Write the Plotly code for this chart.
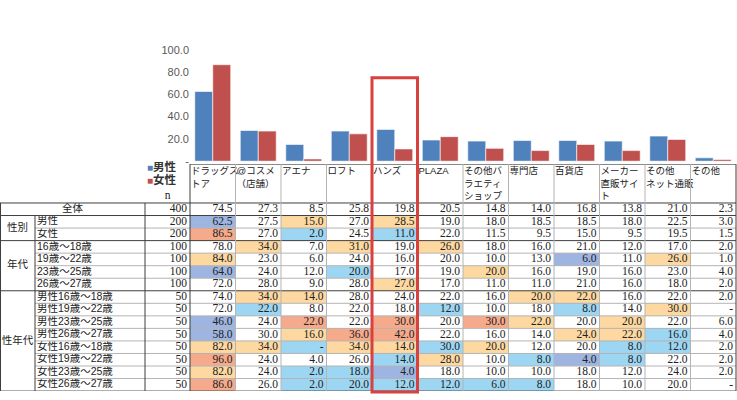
import plotly.graph_objects as go

# ---------------- data ----------------
categories = ["ドラッグストア", "@コスメ（店舗）", "アエナ", "ロフト", "ハンズ", "PLAZA",
              "その他バラエティショップ", "専門店", "百貨店", "メーカー直販サイト",
              "その他ネット通販", "その他"]
header_lines = [["ドラッグス", "トア"], ["@コスメ", "（店舗）"], ["アエナ"], ["ロフト"], ["ハンズ"],
                ["PLAZA"], ["その他バ", "ラエティ", "ショップ"], ["専門店"], ["百貨店"],
                ["メーカー", "直販サイ", "ト"], ["その他", "ネット通販"], ["その他"]]

row_labels = ["全体", "男性", "女性", "16歳～18歳", "19歳～22歳", "23歳～25歳", "26歳～27歳",
              "男性16歳～18歳", "男性19歳～22歳", "男性23歳～25歳", "男性26歳～27歳",
              "女性16歳～18歳", "女性19歳～22歳", "女性23歳～25歳", "女性26歳～27歳"]
group_labels = ["性別", "年代", "性年代"]
group_rows = [(1, 3), (3, 7), (7, 15)]
n_values = [400, 200, 200, 100, 100, 100, 100, 50, 50, 50, 50, 50, 50, 50, 50]

v_total = [74.5, 27.3, 8.5, 25.8, 19.8, 20.5, 14.8, 14.0, 16.8, 13.8, 21.0, 2.3]
v_male = [62.5, 27.5, 15.0, 27.0, 28.5, 19.0, 18.0, 18.5, 18.5, 18.0, 22.5, 3.0]
v_female = [86.5, 27.0, 2.0, 24.5, 11.0, 22.0, 11.5, 9.5, 15.0, 9.5, 19.5, 1.5]
v_age16 = [78.0, 34.0, 7.0, 31.0, 19.0, 26.0, 18.0, 16.0, 21.0, 12.0, 17.0, 2.0]
v_age19 = [84.0, 23.0, 6.0, 24.0, 16.0, 20.0, 10.0, 13.0, 6.0, 11.0, 26.0, 1.0]
v_age23 = [64.0, 24.0, 12.0, 20.0, 17.0, 19.0, 20.0, 16.0, 19.0, 16.0, 23.0, 4.0]
v_age26 = [72.0, 28.0, 9.0, 28.0, 27.0, 17.0, 11.0, 11.0, 21.0, 16.0, 18.0, 2.0]
v_m16 = [74.0, 34.0, 14.0, 28.0, 24.0, 22.0, 16.0, 20.0, 22.0, 16.0, 22.0, 2.0]
v_m19 = [72.0, 22.0, 8.0, 22.0, 18.0, 12.0, 10.0, 18.0, 8.0, 14.0, 30.0, None]
v_m23 = [46.0, 24.0, 22.0, 22.0, 30.0, 20.0, 30.0, 22.0, 20.0, 20.0, 22.0, 6.0]
v_m26 = [58.0, 30.0, 16.0, 36.0, 42.0, 22.0, 16.0, 14.0, 24.0, 22.0, 16.0, 4.0]
v_f16 = [82.0, 34.0, None, 34.0, 14.0, 30.0, 20.0, 12.0, 20.0, 8.0, 12.0, 2.0]
v_f19 = [96.0, 24.0, 4.0, 26.0, 14.0, 28.0, 10.0, 8.0, 4.0, 8.0, 22.0, 2.0]
v_f23 = [82.0, 24.0, 2.0, 18.0, 4.0, 18.0, 10.0, 10.0, 18.0, 12.0, 24.0, 2.0]
v_f26 = [86.0, 26.0, 2.0, 20.0, 12.0, 12.0, 6.0, 8.0, 18.0, 10.0, 20.0, None]

# highlight classes: . none, d dark blue, l light blue, o orange, s salmon
hl_rows = ["............", "d.o.o.......", "s.l.l.......", ".o.o.o......",
           "o.......d.o.", "d..l..o.....", "....o.......", ".oo....oo...",
           ".l...l..l.o.", "d.s.s.so.o..", "d.oss...ool.", "ooloolo..ll.",
           "s...lo.ldl..", "o.lld.......", "s.llllll...."]

values = [v_total, v_male, v_female, v_age16, v_age19, v_age23, v_age26,
          v_m16, v_m19, v_m23, v_m26, v_f16, v_f19, v_f23, v_f26]

# ---------------- layout constants ----------------
W, H = 737, 400
X_GROUP, X_LABEL, X_N, X_DATA, X_END = 0, 35, 145, 190, 736
DW = (X_END - X_DATA) / len(categories)
HEADER_TOP = -3.1
NROWS = len(row_labels)
DARK = "#3f3f3f"
LIGHT = "#b4b4b4"
C_MALE = "#4f81bd"
C_FEMALE = "#c0504d"
hl_colors = {".": 0, "d": 1, "l": 2, "o": 3, "s": 4}
JP = "Liberation Sans, Noto Sans CJK JP"
NUM_FONT = dict(family="Liberation Serif", size=11.5, color="#222222")
JP_FONT = dict(family=JP, size=10.5, color="#222222")

col_edges = [X_DATA + k * DW for k in range(len(categories) + 1)]
row_edges = list(range(NROWS + 1))

fig = go.Figure()

# ---------------- bar chart ----------------
fig.add_trace(go.Bar(x=categories, y=v_male, name="男性", marker_color=C_MALE,
                     marker_line=dict(color="rgba(255,255,255,0.6)", width=1),
                     xaxis="x", yaxis="y", showlegend=False))
fig.add_trace(go.Bar(x=categories, y=v_female, name="女性", marker_color=C_FEMALE,
                     marker_line=dict(color="rgba(255,255,255,0.6)", width=1),
                     xaxis="x", yaxis="y", showlegend=False))

# ---------------- table cell fills ----------------
z = [[hl_colors[c] for c in r] for r in hl_rows]
cs = ["#ffffff", "#9db5e0", "#9dd6f2", "#fdd8a0", "#f5aa8c"]
colorscale = []
for i, c in enumerate(cs):
    lo = max(0, (i - 0.5) / 4)
    hi = min(1, (i + 0.5) / 4)
    colorscale += [[lo, c], [hi, c]]
fig.add_trace(go.Heatmap(z=z, x=col_edges, y=row_edges, zmin=0, zmax=4,
                         colorscale=colorscale, showscale=False, hoverinfo="skip",
                         xaxis="x2", yaxis="y2"))

# numbers
tx, ty, tt = [], [], []
for r, row in enumerate(values):
    for c, v in enumerate(row):
        tx.append(col_edges[c + 1] - 3)
        ty.append(r + 0.5)
        tt.append("-" if v is None else f"{v:.1f}")
fig.add_trace(go.Scatter(x=tx, y=ty, text=tt, mode="text", textposition="middle left",
                         textfont=NUM_FONT, xaxis="x2", yaxis="y2", showlegend=False,
                         hoverinfo="skip"))
# n column
fig.add_trace(go.Scatter(x=[X_DATA - 3] * NROWS, y=[r + 0.5 for r in range(NROWS)],
                         text=[str(n) for n in n_values], mode="text",
                         textposition="middle left", textfont=NUM_FONT,
                         xaxis="x2", yaxis="y2", showlegend=False, hoverinfo="skip"))
# row labels
fig.add_trace(go.Scatter(x=[X_LABEL + 2] * (NROWS - 1), y=[r + 0.5 for r in range(1, NROWS)],
                         text=row_labels[1:], mode="text", textposition="middle right",
                         textfont=JP_FONT, xaxis="x2", yaxis="y2", showlegend=False,
                         hoverinfo="skip"))
fig.add_trace(go.Scatter(x=[(X_GROUP + X_N) / 2], y=[0.5], text=[row_labels[0]], mode="text",
                         textposition="middle center", textfont=JP_FONT,
                         xaxis="x2", yaxis="y2", showlegend=False, hoverinfo="skip"))
fig.add_trace(go.Scatter(x=[(X_GROUP + X_LABEL) / 2] * len(group_labels),
                         y=[(a + b) / 2 for a, b in group_rows], text=group_labels,
                         mode="text", textposition="middle center", textfont=JP_FONT,
                         xaxis="x2", yaxis="y2", showlegend=False, hoverinfo="skip"))
# header labels
hx, hy, ht = [], [], []
for c, lines in enumerate(header_lines):
    for k, line in enumerate(lines):
        hx.append(col_edges[c] + 1)
        hy.append(HEADER_TOP + 0.62 + k * 1.0)
        ht.append(line)
fig.add_trace(go.Scatter(x=hx, y=hy, text=ht, mode="text", textposition="middle right",
                         textfont=dict(family=JP, size=9.5, color="#222222"),
                         xaxis="x2", yaxis="y2", showlegend=False, hoverinfo="skip"))
fig.add_trace(go.Scatter(x=[(X_N + X_DATA) / 2], y=[-0.55], text=["n"], mode="text",
                         textposition="middle center", textfont=NUM_FONT,
                         xaxis="x2", yaxis="y2", showlegend=False, hoverinfo="skip"))

# legend (manual)
for k, (name, col) in enumerate([("男性", C_MALE), ("女性", C_FEMALE)]):
    fig.add_annotation(x=X_N, y=HEADER_TOP + 0.2 + k * 1.05, xref="x2", yref="y2",
                       text=f"<span style='color:{col};font-size:10px'>■</span><b>{name}</b>",
                       showarrow=False, xanchor="left", yanchor="middle",
                       font=dict(family=JP, size=11.5, color="#333333"))

# ---------------- borders ----------------
shapes = []
def hline(y, x0, x1, color):
    shapes.append(dict(type="line", xref="x2", yref="y2", x0=x0, x1=x1, y0=y, y1=y,
                       line=dict(color=color, width=1)))
def vline(x, y0, y1, color):
    shapes.append(dict(type="line", xref="x2", yref="y2", x0=x, x1=x, y0=y0, y1=y1,
                       line=dict(color=color, width=1)))

group_breaks = {0, 1, 3, 7, 15}
for r in range(NROWS + 1):
    if r in group_breaks:
        hline(r, X_GROUP, X_END, DARK)
    else:
        hline(r, X_LABEL, X_END, LIGHT)
hline(HEADER_TOP, X_DATA, X_END, DARK)
for e in col_edges[1:-1]:
    vline(e, HEADER_TOP, NROWS, LIGHT)
vline(X_GROUP + 0.5, 0, NROWS, DARK)
vline(X_LABEL, 1, NROWS, DARK)
vline(X_N, 0, NROWS, DARK)
vline(X_DATA, HEADER_TOP, NROWS, DARK)
vline(X_END, HEADER_TOP, NROWS, DARK)

# highlight box around ハンズ
hi = categories.index("ハンズ")
shapes.append(dict(type="rect", xref="x2", yref="paper", x0=col_edges[hi], x1=col_edges[hi + 1],
                   y0=(H - 398) / H, y1=(H - 74) / H,
                   line=dict(color="#d9413e", width=3), fillcolor="rgba(0,0,0,0)"))

fig.update_layout(
    width=W, height=H, margin=dict(l=0, r=0, t=0, b=0),
    paper_bgcolor="white", plot_bgcolor="rgba(0,0,0,0)",
    barmode="group", bargap=0.21, bargroupgap=0,
    shapes=shapes,
    xaxis=dict(domain=[X_DATA / W, X_END / W], type="category", range=[-0.5, 11.5],
               showticklabels=False, showgrid=False, zeroline=False, showline=False),
    yaxis=dict(domain=[(H - 160) / H, (H - 45) / H], range=[0, 100],
               tickvals=[0, 20, 40, 60, 80, 100],
               ticktext=["-", "20.0", "40.0", "60.0", "80.0", "100.0"],
               tickfont=dict(family="Liberation Sans", size=11, color="#595959"),
               showgrid=False, zeroline=False, showline=False, ticks=""),
    xaxis2=dict(domain=[0, 1], range=[0, W], visible=False, anchor="y2"),
    yaxis2=dict(domain=[(H - 397) / H, (H - 163) / H], range=[NROWS, HEADER_TOP],
                visible=False, anchor="x2"),
)

fig.write_html("out.html", config={"displayModeBar": False},
               post_script="document.body.style.margin='0';")
